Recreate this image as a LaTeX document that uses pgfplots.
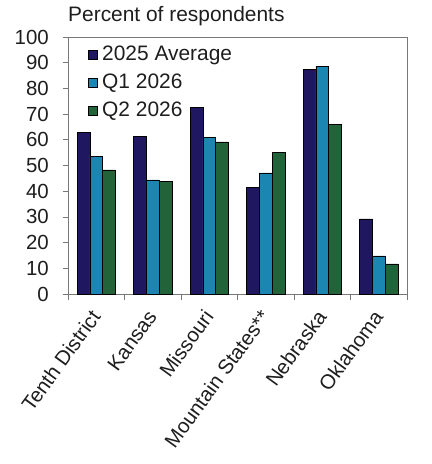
\documentclass[border=0pt]{standalone}
\usepackage{pgfplots}
\pgfplotsset{compat=1.18}
\usepackage{fontspec}
\setmainfont{Liberation Sans}
\definecolor{cnavy}{RGB}{31,24,96}
\definecolor{cblue}{RGB}{27,134,178}
\definecolor{cgreen}{RGB}{34,99,58}
\definecolor{cframe}{RGB}{120,120,120}
\definecolor{ctext}{RGB}{30,30,30}
\pgfplotsset{sqlegend/.style={legend image code/.code={\draw[##1,draw=black,line width=0.5pt] (0bp,-4.5bp) rectangle (9bp,4.5bp);}}}
\begin{document}
\begin{tikzpicture}
\path[use as bounding box] (-68bp,-170bp) rectangle (364bp,294bp);
\begin{axis}[
  scale only axis, width=339bp, height=257bp,
  ybar=0pt, bar width=12.8bp,
  ymin=0, ymax=100, xmin=-0.5, xmax=5.5,
  ytick={0,10,...,100},
  xtick={0,...,5},
  xticklabels={Tenth District,Kansas,Missouri,Mountain States**,Nebraska,Oklahoma},
  minor xtick={-0.5,0.5,...,5.5},
  major x tick style={draw=none},
  tick align=outside, tick pos=left,
  major tick length=5bp, minor tick length=6bp,
  every tick/.style={cframe, line width=0.7pt},
  axis line style={cframe, line width=0.7pt},
  /pgf/number format/assume math mode=true,
  tick label style={ctext},
  yticklabel style={font=\fontsize{20.5}{24}\selectfont, inner sep=0pt, xshift=-14bp},
  xticklabel style={font=\fontsize{20.5}{24}\selectfont, rotate=54, anchor=east, inner sep=1bp},
  xticklabel shift=13bp,
  title={Percent of respondents},
  title style={at={(0,1)}, anchor=base west, yshift=10bp, inner sep=0pt, font=\fontsize{21}{24}\selectfont, ctext},
  legend style={at={(20bp,251bp)}, anchor=north west, draw=none, fill=none,
    font=\fontsize{21}{24}\selectfont, text=ctext, row sep=4.5bp, column sep=2.5bp, inner sep=0pt,
    nodes={inner sep=2bp, text height=15bp, text depth=4.5bp}},
  legend cell align=left,
]
\addplot[fill=cnavy, draw=black, line width=0.5pt, sqlegend] coordinates {(0,62.9) (1,61.4) (2,72.7) (3,41.6) (4,87.5) (5,29.2)};
\addplot[fill=cblue, draw=black, line width=0.5pt, sqlegend] coordinates {(0,53.6) (1,44.4) (2,60.9) (3,47.1) (4,88.6) (5,14.8)};
\addplot[fill=cgreen, draw=black, line width=0.5pt, sqlegend] coordinates {(0,48.3) (1,43.8) (2,59.2) (3,55.1) (4,66.0) (5,11.7)};
\legend{2025 Average,Q1 2026,Q2 2026}
\end{axis}
\end{tikzpicture}
\end{document}
